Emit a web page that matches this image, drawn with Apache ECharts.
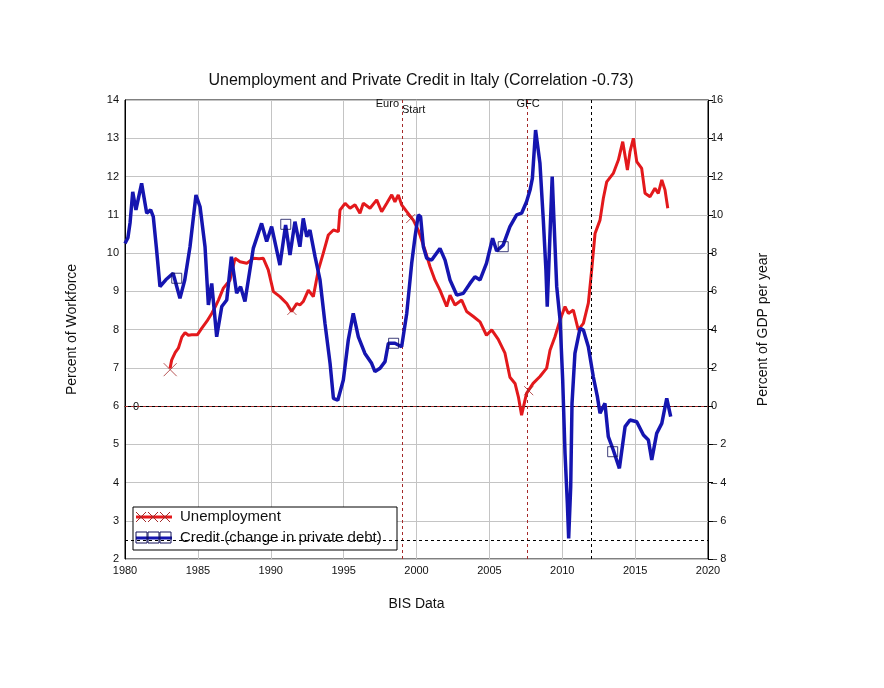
<!DOCTYPE html>
<html>
<head>
<meta charset="utf-8">
<script src="https://cdn.jsdelivr.net/npm/echarts@6/dist/echarts.min.js"></script>
<style>
  html, body { margin: 0; padding: 0; background: #fff; }
  #chart { width: 884px; height: 688px; }
</style>
</head>
<body>
<div id="chart"></div>
<script>
// unemployment, percent of workforce (left axis)
const unempYears = [1983.09, 1983.2, 1983.45, 1983.66, 1983.9, 1984.12, 1984.35, 1984.58, 1984.96, 1985.26,
  1985.61, 1985.95, 1986.2, 1986.41, 1986.75, 1987.0, 1987.2, 1987.55, 1987.89, 1988.35,
  1988.8, 1989.2, 1989.49, 1989.83, 1990.18, 1990.63, 1991.1, 1991.43, 1991.78, 1992.0,
  1992.23, 1992.58, 1992.92, 1993.27, 1993.6, 1993.95, 1994.3, 1994.64, 1994.75, 1995.1,
  1995.44, 1995.78, 1996.12, 1996.35, 1996.81, 1997.27, 1997.61, 1997.96, 1998.3, 1998.52,
  1998.75, 1998.98, 1999.33, 1999.78, 2000.12, 2000.58, 2000.93, 2001.27, 2001.61, 2002.07,
  2002.3, 2002.64, 2003.1, 2003.44, 2003.9, 2004.36, 2004.8, 2005.16, 2005.6, 2006.07,
  2006.41, 2006.76, 2006.99, 2007.21, 2007.55, 2008.0, 2008.47, 2008.93, 2009.16, 2009.5,
  2009.85, 2010.19, 2010.42, 2010.76, 2011.1, 2011.45, 2011.79, 2012.02, 2012.25, 2012.59,
  2012.82, 2013.05, 2013.5, 2013.85, 2014.15, 2014.47, 2014.65, 2014.88, 2015.11, 2015.45,
  2015.68, 2016.02, 2016.36, 2016.59, 2016.83, 2017.05, 2017.24];
const unempRate = [6.98, 7.2, 7.4, 7.51, 7.8, 7.92, 7.85, 7.86, 7.86, 8.03,
  8.21, 8.42, 8.6, 8.77, 9.08, 9.2, 9.29, 9.86, 9.77, 9.73,
  9.86, 9.85, 9.86, 9.56, 8.99, 8.86, 8.68, 8.47, 8.68, 8.64,
  8.73, 9.03, 8.86, 9.56, 9.99, 10.47, 10.6, 10.56, 11.12, 11.3,
  11.17, 11.26, 11.04, 11.3, 11.17, 11.39, 11.08, 11.3, 11.52, 11.34,
  11.52, 11.26, 11.08, 10.86, 10.6, 10.08, 9.64, 9.29, 9.03, 8.6,
  8.9, 8.64, 8.77, 8.47, 8.34, 8.2, 7.85, 7.99, 7.75, 7.38,
  6.75, 6.59, 6.24, 5.76, 6.33, 6.59, 6.77, 6.99, 7.46, 7.81,
  8.25, 8.6, 8.42, 8.51, 7.99, 8.16, 8.69, 9.56, 10.51, 10.86,
  11.43, 11.86, 12.08, 12.43, 12.91, 12.17, 12.65, 13.0, 12.39, 12.21,
  11.56, 11.47, 11.69, 11.56, 11.91, 11.65, 11.17];

// credit, change in private debt, percent of GDP per year (right axis)
const creditYears = [1980.0, 1980.2, 1980.35, 1980.53, 1980.75, 1981.14, 1981.49, 1981.76, 1981.94, 1982.15,
  1982.4, 1982.8, 1983.3, 1983.77, 1984.1, 1984.46, 1984.87, 1985.15, 1985.49, 1985.72,
  1985.95, 1986.29, 1986.64, 1986.98, 1987.3, 1987.66, 1987.93, 1988.23, 1988.8, 1989.37,
  1989.72, 1990.06, 1990.63, 1991.02, 1991.32, 1991.66, 1992.0, 1992.23, 1992.47, 1992.69,
  1993.04, 1993.38, 1993.72, 1994.07, 1994.3, 1994.6, 1994.98, 1995.32, 1995.66, 1996.01,
  1996.46, 1996.92, 1997.15, 1997.5, 1997.84, 1998.07, 1998.52, 1998.98, 1999.33, 1999.67,
  1999.9, 2000.12, 2000.28, 2000.47, 2000.7, 2001.04, 2001.61, 2001.96, 2002.3, 2002.76,
  2003.21, 2003.67, 2004.01, 2004.36, 2004.8, 2005.22, 2005.5, 2005.95, 2006.41, 2006.87,
  2007.21, 2007.55, 2007.79, 2007.95, 2008.17, 2008.47, 2008.7, 2008.88, 2008.97, 2009.11,
  2009.31, 2009.43, 2009.62, 2009.85, 2010.03, 2010.19, 2010.35, 2010.44, 2010.58, 2010.67,
  2010.87, 2011.22, 2011.45, 2011.79, 2012.13, 2012.41, 2012.59, 2012.93, 2013.16, 2013.5,
  2013.92, 2014.31, 2014.65, 2015.11, 2015.57, 2015.91, 2016.14, 2016.48, 2016.83, 2017.17,
  2017.44];
const creditChange = [8.5, 8.8, 9.6, 11.2, 10.25, 11.64, 10.08, 10.25, 9.9, 8.3,
  6.24, 6.6, 6.94, 5.63, 6.59, 8.33, 11.03, 10.42, 8.33, 5.28,
  6.41, 3.62, 5.2, 5.54, 7.81, 5.9, 6.24, 5.46, 8.24, 9.55,
  8.6, 9.38, 7.37, 9.46, 7.9, 9.64, 8.33, 9.81, 8.85, 9.2,
  7.81, 6.59, 4.32, 2.23, 0.4, 0.3, 1.36, 3.45, 4.84, 3.62,
  2.75, 2.23, 1.8, 1.97, 2.32, 3.28, 3.28, 3.1, 4.84, 7.46,
  8.85, 9.99, 9.9, 8.33, 7.72, 7.63, 8.24, 7.63, 6.59, 5.8,
  5.89, 6.41, 6.76, 6.59, 7.46, 8.77, 8.1, 8.42, 9.38, 9.99,
  10.08, 10.68, 11.29, 11.9, 14.43, 12.69, 9.73, 7.11, 5.19, 7.98,
  11.99, 9.73, 6.24, 4.5, 1.36, -2.47, -5.09, -6.92, -4.22, 0.14,
  2.75, 4.06, 3.97, 3.1, 1.53, 0.49, -0.38, 0.14, -1.6, -2.3,
  -3.26, -1.08, -0.73, -0.82, -1.52, -1.78, -2.82, -1.43, -0.91, 0.4,
  -0.56];

// marker positions along each line
const unempMarkYears = [1983.1, 1991.45, 1999.6, 2007.7];
const unempMarkRate = [6.95, 8.5, 10.9, 6.4];
const creditMarkYears = [1983.55, 1991.03, 1998.43, 2005.95, 2013.46];
const creditMarkChange = [6.68, 9.5, 3.28, 8.33, -2.39];

// reference lines
const euroStart = 1999;
const gfc = 2007.6;
const laterEvent = 2012;
const creditFloor = -7;

const zip = (xs, ys) => xs.map((x, i) => [x, ys[i]]);

const RED = "#e3191c";
const BLUE = "#1515b0";
const DARKRED = "#a52a2a";
const FONT = "Liberation Sans";

const chart = echarts.init(document.getElementById("chart"));

const redLine = { color: DARKRED, type: [3, 3], width: 1 };
const blackLine = { color: "#000", type: [3, 3], width: 1 };

chart.setOption({
  animation: false,
  textStyle: { fontFamily: FONT },
  title: {
    text: "Unemployment and Private Credit in Italy (Correlation -0.73)",
    left: 416,
    top: 68,
    textAlign: "center",
    textStyle: { fontSize: 16, fontWeight: "normal", color: "#111", fontFamily: FONT },
  },
  grid: {
    left: 125,
    right: 176,
    top: 100,
    bottom: 129,
    show: true,
    borderColor: "#000",
    borderWidth: 1,
    backgroundColor: "transparent",
  },
  xAxis: {
    type: "value",
    min: 1980,
    max: 2020,
    interval: 5,
    name: "BIS Data",
    nameLocation: "middle",
    nameGap: 38,
    nameTextStyle: { fontSize: 14, color: "#111" },
    axisLine: { show: true, lineStyle: { color: "#000" } },
    axisTick: { show: false },
    axisLabel: { color: "#111", fontSize: 11, margin: 6, formatter: (v) => String(v) },
    splitLine: { show: true, lineStyle: { color: "#c4c4c4" } },
  },
  yAxis: [
    {
      type: "value",
      min: 2,
      max: 14,
      interval: 1,
      name: "Percent of Workforce",
      nameLocation: "middle",
      nameGap: 46,
      nameTextStyle: { fontSize: 14, color: "#111" },
      axisLine: { show: true, lineStyle: { color: "#000" } },
      axisTick: { show: false },
      axisLabel: { color: "#111", fontSize: 11, margin: 6 },
      splitLine: { show: true, lineStyle: { color: "#c4c4c4" } },
    },
    {
      type: "value",
      min: -8,
      max: 16,
      interval: 2,
      position: "right",
      name: "Percent of GDP per year",
      nameLocation: "middle",
      nameGap: 48,
      nameTextStyle: { fontSize: 14, color: "#111" },
      axisLine: { show: true, lineStyle: { color: "#000" } },
      axisTick: { show: true, length: 5, lineStyle: { color: "#000" } },
      axisLabel: {
        color: "#111",
        fontSize: 11,
        margin: 3,
        formatter: (v) => (v < 0 ? "\u2013 " + Math.abs(v) : String(v)),
      },
      splitLine: { show: false },
    },
  ],
  graphic: [
    { type: "text", x: 399, y: 104, z: 5, style: { text: "Euro", font: "11px " + FONT, fill: "#111", align: "right", verticalAlign: "middle" } },
    { type: "text", x: 402, y: 110, z: 5, style: { text: "Start", font: "11px " + FONT, fill: "#111", align: "left", verticalAlign: "middle" } },
    { type: "text", x: 528, y: 104, z: 5, style: { text: "GFC", font: "11px " + FONT, fill: "#111", align: "center", verticalAlign: "middle" } },
    { type: "text", x: 136, y: 407, z: 5, style: { text: "0", font: "11px " + FONT, fill: "#111", align: "center", verticalAlign: "middle" } },
    {
      type: "group",
      z: 1,
      children: [
        { type: "rect", z: 1, shape: { x: 133, y: 507, width: 264, height: 43 }, style: { fill: "#fff", stroke: "#000", lineWidth: 1 } },
        { type: "line", z: 1, shape: { x1: 136, y1: 517, x2: 172, y2: 517 }, style: { stroke: RED, lineWidth: 3 } },
        { type: "line", z: 1, shape: { x1: 136, y1: 512, x2: 146, y2: 522 }, style: { stroke: DARKRED, lineWidth: 1 } },
        { type: "line", z: 1, shape: { x1: 146, y1: 512, x2: 136, y2: 522 }, style: { stroke: DARKRED, lineWidth: 1 } },
        { type: "line", z: 1, shape: { x1: 148, y1: 512, x2: 158, y2: 522 }, style: { stroke: DARKRED, lineWidth: 1 } },
        { type: "line", z: 1, shape: { x1: 158, y1: 512, x2: 148, y2: 522 }, style: { stroke: DARKRED, lineWidth: 1 } },
        { type: "line", z: 1, shape: { x1: 160, y1: 512, x2: 170, y2: 522 }, style: { stroke: DARKRED, lineWidth: 1 } },
        { type: "line", z: 1, shape: { x1: 170, y1: 512, x2: 160, y2: 522 }, style: { stroke: DARKRED, lineWidth: 1 } },
        { type: "text", z: 1, x: 180, y: 517, style: { text: "Unemployment", font: "15px " + FONT, fill: "#111", verticalAlign: "middle" } },
        { type: "line", z: 1, shape: { x1: 136, y1: 538, x2: 172, y2: 538 }, style: { stroke: BLUE, lineWidth: 3 } },
        { type: "rect", z: 1, shape: { x: 136, y: 532, width: 11, height: 11 }, style: { fill: "none", stroke: "#10105a", lineWidth: 1 } },
        { type: "rect", z: 1, shape: { x: 148, y: 532, width: 11, height: 11 }, style: { fill: "none", stroke: "#10105a", lineWidth: 1 } },
        { type: "rect", z: 1, shape: { x: 160, y: 532, width: 11, height: 11 }, style: { fill: "none", stroke: "#10105a", lineWidth: 1 } },
        { type: "text", z: 1, x: 180, y: 538, style: { text: "Credit (change in private debt)", font: "15px " + FONT, fill: "#111", verticalAlign: "middle" } },
      ],
    },
  ],
  series: [
    {
      name: "Unemployment",
      type: "line",
      yAxisIndex: 0,
      data: zip(unempYears, unempRate),
      symbol: "none",
      lineStyle: { color: RED, width: 3 },
      itemStyle: { color: RED },
      z: 3,
    },
    {
      type: "scatter",
      yAxisIndex: 0,
      data: zip(unempMarkYears, unempMarkRate),
      symbol: "path://M0,0L10,10M10,0L0,10",
      symbolSize: (v, p) => (p.dataIndex === 0 ? 13 : 9),
      itemStyle: { color: "rgba(0,0,0,0)", borderColor: DARKRED, borderWidth: 1 },
      z: 4,
    },
    {
      name: "Credit",
      type: "line",
      yAxisIndex: 1,
      data: zip(creditYears, creditChange),
      symbol: "none",
      lineStyle: { color: BLUE, width: 3.5 },
      itemStyle: { color: BLUE },
      z: 5,
      markLine: {
        silent: true,
        symbol: ["none", "none"],
        label: { show: false },
        data: [
          { xAxis: euroStart, lineStyle: redLine },
          { xAxis: gfc, lineStyle: redLine },
          { xAxis: laterEvent, lineStyle: blackLine },
          { yAxis: 0, lineStyle: redLine },
          { yAxis: creditFloor, lineStyle: blackLine },
        ],
      },
    },
    {
      type: "scatter",
      yAxisIndex: 1,
      data: zip(creditMarkYears, creditMarkChange),
      symbol: "rect",
      symbolSize: 10,
      itemStyle: { color: "rgba(0,0,0,0)", borderColor: "#10105a", borderWidth: 1 },
      z: 6,
    },
  ],
});
</script>
</body>
</html>
